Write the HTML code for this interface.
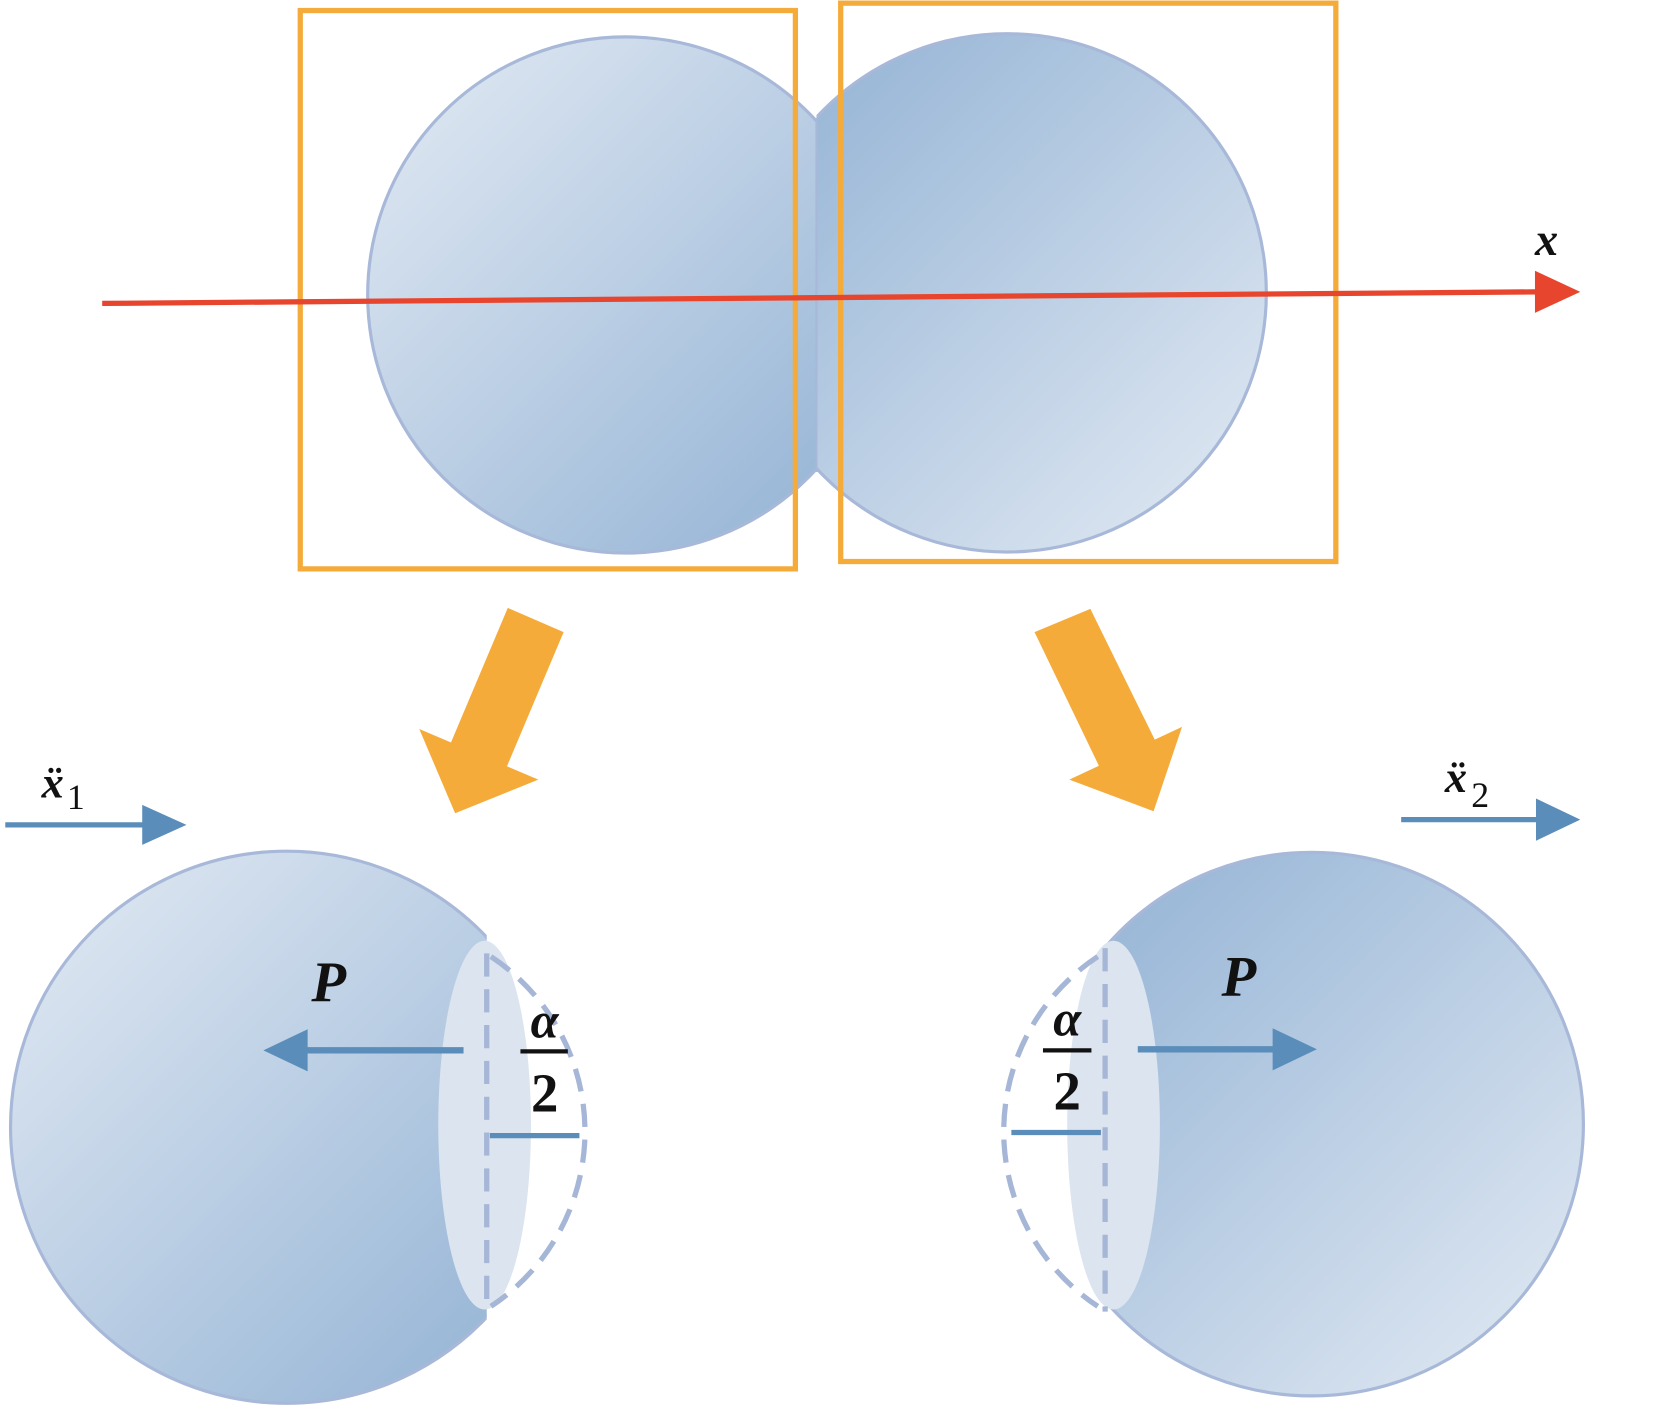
<!DOCTYPE html>
<html><head><meta charset="utf-8"><style>html,body{margin:0;padding:0;background:#fff}svg{display:block}</style></head>
<body>
<svg width="1654" height="1408" viewBox="0 0 1570 1336.5" preserveAspectRatio="none" xmlns="http://www.w3.org/2000/svg">
<defs>
<linearGradient id="gL" x1="0" y1="0" x2="1" y2="1"><stop offset="0" stop-color="#e4ebf4"/><stop offset="1" stop-color="#8fb0d3"/></linearGradient>
<linearGradient id="gR" x1="0" y1="0" x2="1" y2="1"><stop offset="0" stop-color="#8fb0d3"/><stop offset="1" stop-color="#e4ebf4"/></linearGradient>
<clipPath id="cTL"><rect x="0" y="0" width="775" height="600"/></clipPath>
<clipPath id="cTR"><rect x="775" y="0" width="800" height="600"/></clipPath>
<clipPath id="cBL"><rect x="0" y="700" width="462" height="700"/></clipPath>
<clipPath id="cBR"><rect x="1050" y="700" width="600" height="700"/></clipPath>
</defs>
<g clip-path="url(#cTL)"><circle cx="594" cy="280" r="245" fill="url(#gL)" stroke="#a8b8d8" stroke-width="3"/></g>
<g clip-path="url(#cTR)"><circle cx="956" cy="278" r="246" fill="url(#gR)" stroke="#a8b8d8" stroke-width="3"/></g>
<line x1="775" y1="112" x2="775" y2="448" stroke="#a8b8d8" stroke-width="2"/>
<rect x="285" y="10" width="470" height="530" fill="none" stroke="#f5ab3a" stroke-width="5"/>
<rect x="798" y="3" width="470" height="530" fill="none" stroke="#f5ab3a" stroke-width="5"/>
<line x1="97" y1="288" x2="1462" y2="277" stroke="#e8452e" stroke-width="5"/>
<polygon points="1457,257 1500,277 1457,297" fill="#e8452e"/>
<text x="1468" y="242" font-family="Liberation Serif, serif" font-style="italic" font-weight="bold" font-size="44" text-anchor="middle" fill="#111">x</text>
<polygon points="482,577 535,600 478,735 425,712" fill="#f5ab3a"/>
<polygon points="398,692 432,772 511,740" fill="#f5ab3a"/>
<polygon points="982,600 1035,578 1100,710 1047,735" fill="#f5ab3a"/>
<polygon points="1015,740 1095,770 1122,690" fill="#f5ab3a"/>
<!-- bottom left -->
<g clip-path="url(#cBL)"><circle cx="272" cy="1070" r="262" fill="url(#gL)" stroke="#a8b8d8" stroke-width="3"/></g>
<ellipse cx="460" cy="1068" rx="44" ry="175" fill="#dbe4ef"/>
<line x1="462" y1="905" x2="462" y2="1245" stroke="#a6b6d6" stroke-width="5" stroke-dasharray="22,12"/>
<path d="M466,908 A199,199 0 0 1 466,1240" fill="none" stroke="#a6b6d6" stroke-width="5" stroke-dasharray="22,12"/>
<line x1="465" y1="1078" x2="550" y2="1078" stroke="#5b8dba" stroke-width="5"/>
<line x1="440" y1="997" x2="288" y2="997" stroke="#5b8dba" stroke-width="6"/>
<polygon points="250,997 292,977 292,1017" fill="#5b8dba"/>
<text x="312" y="950" font-family="Liberation Serif, serif" font-style="italic" font-weight="bold" font-size="54" text-anchor="middle" fill="#111">P</text>
<text x="517" y="985" font-family="Liberation Serif, serif" font-style="italic" font-weight="bold" font-size="48" text-anchor="middle" fill="#111">α</text>
<line x1="494" y1="998" x2="539" y2="998" stroke="#111" stroke-width="4"/>
<text x="517" y="1055" font-family="Liberation Serif, serif" font-weight="bold" font-size="52" text-anchor="middle" fill="#111">2</text>
<!-- bottom right -->
<g clip-path="url(#cBR)"><circle cx="1245" cy="1067" r="258" fill="url(#gR)" stroke="#a8b8d8" stroke-width="3"/></g>
<ellipse cx="1057" cy="1068" rx="44" ry="175" fill="#dbe4ef"/>
<line x1="1049" y1="900" x2="1049" y2="1245" stroke="#a6b6d6" stroke-width="5" stroke-dasharray="22,12"/>
<path d="M1042,908 A199,199 0 0 0 1042,1240" fill="none" stroke="#a6b6d6" stroke-width="5" stroke-dasharray="22,12"/>
<line x1="960" y1="1075" x2="1045" y2="1075" stroke="#5b8dba" stroke-width="5"/>
<line x1="1080" y1="996" x2="1212" y2="996" stroke="#5b8dba" stroke-width="6"/>
<polygon points="1250,996 1208,976 1208,1016" fill="#5b8dba"/>
<text x="1176" y="945" font-family="Liberation Serif, serif" font-style="italic" font-weight="bold" font-size="54" text-anchor="middle" fill="#111">P</text>
<text x="1013" y="983" font-family="Liberation Serif, serif" font-style="italic" font-weight="bold" font-size="48" text-anchor="middle" fill="#111">α</text>
<line x1="990" y1="997" x2="1036" y2="997" stroke="#111" stroke-width="4"/>
<text x="1013" y="1053" font-family="Liberation Serif, serif" font-weight="bold" font-size="52" text-anchor="middle" fill="#111">2</text>
<!-- small arrows -->
<line x1="5" y1="783" x2="140" y2="783" stroke="#5b8dba" stroke-width="5"/>
<polygon points="135,764 177,783 135,802" fill="#5b8dba"/>
<text x="50" y="757" font-family="Liberation Serif, serif" font-style="italic" font-weight="bold" font-size="42" text-anchor="middle" fill="#111">ẍ</text>
<text x="72" y="768" font-family="Liberation Serif, serif" font-size="34" text-anchor="middle" fill="#111">1</text>
<line x1="1330" y1="778" x2="1462" y2="778" stroke="#5b8dba" stroke-width="5"/>
<polygon points="1458,758 1500,778 1458,798" fill="#5b8dba"/>
<text x="1382" y="752" font-family="Liberation Serif, serif" font-style="italic" font-weight="bold" font-size="42" text-anchor="middle" fill="#111">ẍ</text>
<text x="1405" y="766" font-family="Liberation Serif, serif" font-size="34" text-anchor="middle" fill="#111">2</text>
</svg>
</body></html>
